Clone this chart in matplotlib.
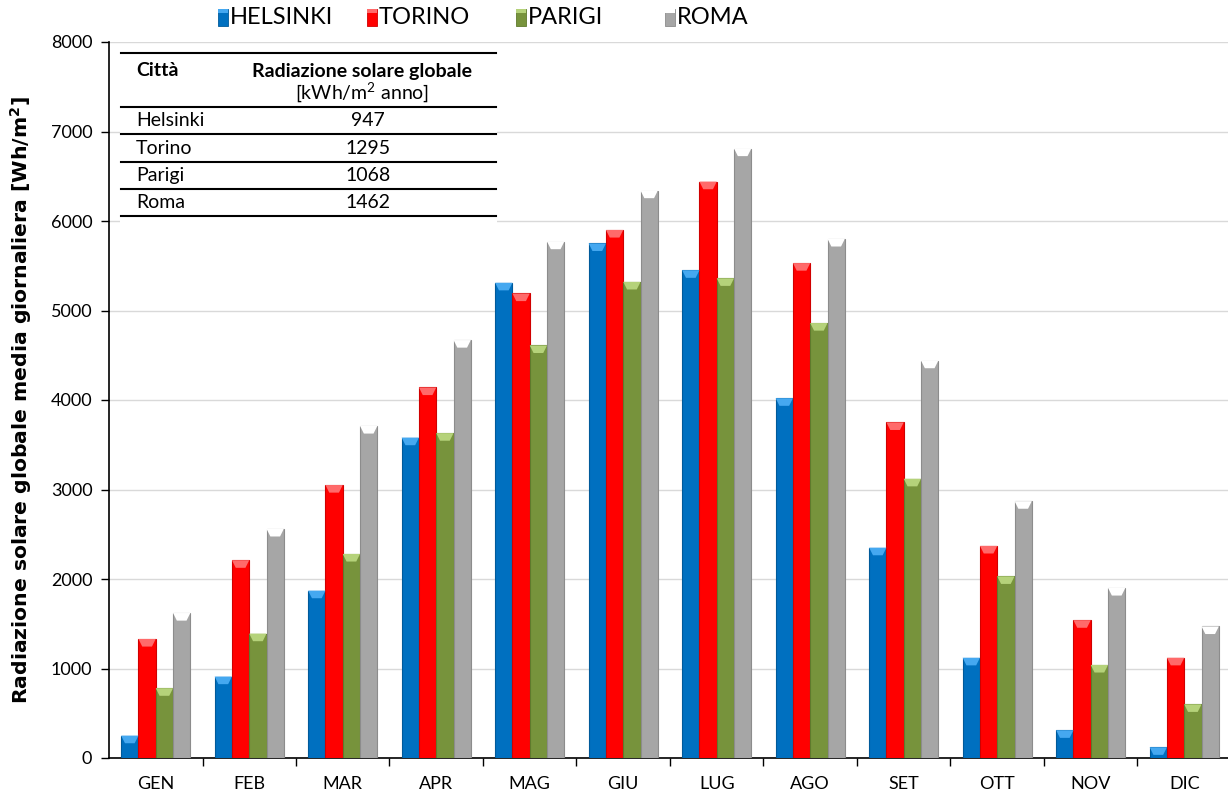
import numpy as np
import matplotlib
matplotlib.use('Agg')
import matplotlib.pyplot as plt
from matplotlib.patches import Polygon, Rectangle
from matplotlib.lines import Line2D

# data (Wh/m2, daily average)
months = ['GEN', 'FEB', 'MAR', 'APR', 'MAG', 'GIU', 'LUG', 'AGO', 'SET', 'OTT', 'NOV', 'DIC']
helsinki = [250, 910, 1870, 3580, 5310, 5750, 5450, 4020, 2350, 1120, 310, 120]
torino = [1330, 2210, 3050, 4140, 5190, 5900, 6440, 5530, 3750, 2370, 1540, 1120]
parigi = [780, 1390, 2280, 3630, 4610, 5320, 5360, 4860, 3120, 2030, 1040, 600]
roma = [1620, 2560, 3710, 4670, 5770, 6340, 6810, 5800, 4440, 2870, 1900, 1470]

series_names = ['HELSINKI', 'TORINO', 'PARIGI', 'ROMA']
colors = ['#0070C0', '#FF0000', '#77933C', '#A6A6A6']
edge_colors = ['#005A9A', '#D00000', '#5E7A2C', '#8C8C8C']
top_colors = ['#45A8F0', '#FF6A6A', '#B5D27A', '#FFFFFF']

table_cities = ['Helsinki', 'Torino', 'Parigi', 'Roma']
table_annual = ['947', '1295', '1068', '1462']

W, H = 1228, 796
fig = plt.figure(figsize=(W / 100, H / 100), dpi=100)
plt.rcParams['font.family'] = ['Lato', 'DejaVu Sans']


def fx(px):
    return px / W


def fy(py):
    return 1 - py / H


ax = fig.add_axes([fx(109), fy(758), (1231 - 109) / W, (758 - 42) / H])

x = np.arange(len(months))
width = 0.185
all_series = [helsinki, torino, parigi, roma]
bevel_h = 85
for i, vals in enumerate(all_series):
    pos = x + (i - 1.5) * width
    bars = ax.bar(pos, vals, width, color=colors[i], edgecolor=edge_colors[i],
                  linewidth=0.8, zorder=3)
    for b in bars:
        x0 = b.get_x()
        x1 = x0 + b.get_width()
        top = b.get_height()
        bh = min(bevel_h, top)
        inset = 0.22 * b.get_width()
        ax.add_patch(Polygon([(x0, top), (x1, top), (x1 - inset, top - bh), (x0 + inset, top - bh)],
                             closed=True, facecolor=top_colors[i], edgecolor='none', zorder=4))

ax.set_xlim(-0.5, len(months) - 0.5)
ax.set_ylim(0, 8000)
ax.set_yticks(np.arange(0, 8001, 1000))
ax.set_xticks(x)
ax.set_xticklabels(months, fontsize=13)
ax.set_xticks(np.arange(0.5, len(months) - 0.5, 1), minor=True)
ax.tick_params(axis='x', which='major', length=0, pad=13)
ax.tick_params(axis='x', which='minor', length=6, width=1, direction='out')
ax.tick_params(axis='y', length=6, width=1, direction='out', labelsize=13, pad=6)
ax.grid(axis='y', color='#D9D9D9', linewidth=1, zorder=0)
ax.set_axisbelow(True)
for s in ['top', 'right']:
    ax.spines[s].set_visible(False)
ax.spines['left'].set_linewidth(1.2)
ax.spines['bottom'].set_linewidth(1.2)
ax.set_ylabel('Radiazione solare globale media giornaliera [Wh/m$^\\mathregular{2}$]',
              fontsize=14.7, fontweight='bold', family=['DejaVu Sans'])
ax.yaxis.set_label_coords(-(109 - 34) / 1122, 0.5)

# legend drawn manually with equal-width entries
for i, name in enumerate(series_names):
    lx = 218 + 149 * i
    fig.add_artist(Rectangle((fx(lx), fy(26)), 10 / W, 17 / H, transform=fig.transFigure,
                             facecolor=colors[i], edgecolor=edge_colors[i], linewidth=0.6))
    fig.add_artist(Rectangle((fx(lx), fy(13)), 10 / W, 4 / H, transform=fig.transFigure,
                             facecolor=top_colors[i], edgecolor='none'))
    fig.text(fx(lx + 12), fy(18), name, fontsize=17, va='center', ha='left')

# inset table (white box covering grid)
fig.add_artist(Rectangle((fx(120), fy(226)), (497 - 120) / W, (226 - 45) / H,
                         transform=fig.transFigure, facecolor='white', edgecolor='none', zorder=5))
for ly in [53, 107, 134, 162, 189, 216]:
    fig.add_artist(Line2D([fx(121), fx(496)], [fy(ly), fy(ly)], transform=fig.transFigure,
                          color='black', linewidth=1.5, zorder=6))
fig.text(fx(136), fy(71), 'Città', fontsize=14, fontweight='bold', va='center', zorder=7)
fig.text(fx(362), fy(71), 'Radiazione solare globale', fontsize=14, fontweight='bold',
         va='center', ha='center', zorder=7)
fig.text(fx(362), fy(93), '[kWh/m$^\\mathregular{2}$ anno]', fontsize=14, va='center', ha='center', zorder=7)
for j, (c, v) in enumerate(zip(table_cities, table_annual)):
    yy = 121 + j * 27.3
    fig.text(fx(136), fy(yy), c, fontsize=14, va='center', zorder=7)
    fig.text(fx(368), fy(yy), v, fontsize=14, va='center', ha='center', zorder=7)

fig.savefig('out.png', dpi=100)
